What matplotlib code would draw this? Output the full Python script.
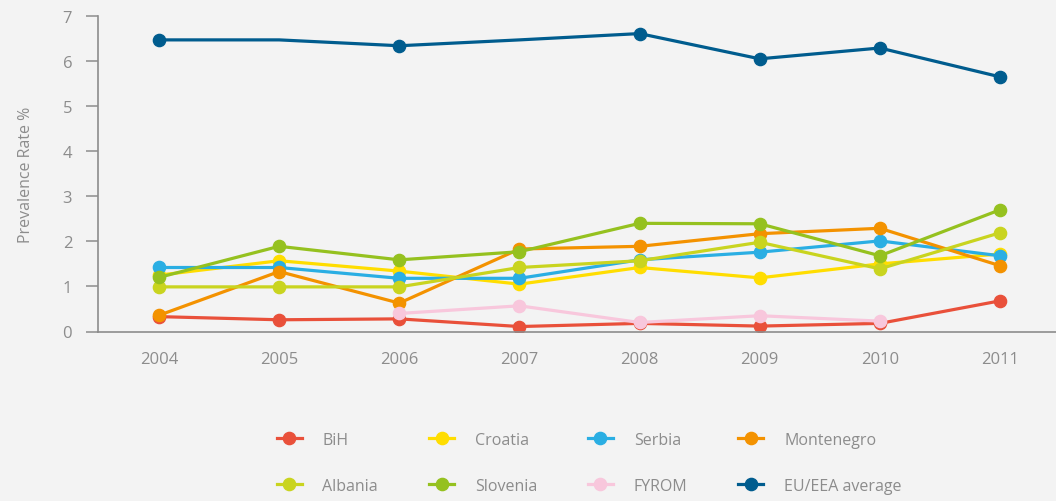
import numpy as np
import matplotlib
matplotlib.use("Agg")
import matplotlib.pyplot as plt
from matplotlib.lines import Line2D

years = [2004, 2005, 2006, 2007, 2008, 2009, 2010, 2011]
nan = np.nan

bih        = [0.33, 0.26, 0.28, 0.11, 0.18, 0.12, 0.18, 0.68]
croatia    = [1.25, 1.57, 1.34, 1.05, 1.42, 1.19, 1.50, 1.72]
serbia     = [1.42, 1.42, 1.18, 1.18, 1.59, 1.76, 2.01, 1.68]
montenegro = [0.36, 1.33, 0.63, 1.83, 1.89, 2.17, 2.29, 1.46]
albania    = [0.99, 0.99, 0.99, 1.42, 1.57, 1.98, 1.39, 2.19]
slovenia   = [1.20, 1.89, 1.59, 1.77, 2.40, 2.39, 1.68, 2.70]
fyrom      = [nan, nan, 0.40, 0.57, 0.20, 0.35, 0.23, nan]
eu_eea     = [6.47, 6.47, 6.34, 6.47, 6.61, 6.05, 6.29, 5.65]
eu_marker_idx = [0, 2, 4, 5, 6, 7]

series = [
    ("BiH", bih, "#E9503A", None),
    ("Croatia", croatia, "#FFDD00", None),
    ("Serbia", serbia, "#2AAEE3", None),
    ("Montenegro", montenegro, "#F39200", None),
    ("Albania", albania, "#C9D41F", None),
    ("Slovenia", slovenia, "#95C11F", None),
    ("FYROM", fyrom, "#F8C7DC", None),
    ("EU/EEA average", eu_eea, "#005C8E", eu_marker_idx),
]

bg = "#F3F3F3"
gray = "#8C8C8C"
plt.rcParams['font.family'] = ['Open Sans', 'DejaVu Sans']

fig = plt.figure(figsize=(10.56, 5.02), dpi=100, facecolor=bg)
ax = fig.add_axes([98/1056, 1 - 332.5/502, 1 - 98/1056, (332.5 - 17)/502], facecolor=bg)

for name, vals, col, mk in series:
    ax.plot(years, vals, color=col, lw=2.3, marker='o', markersize=8.8,
            markevery=mk, label=name, solid_joinstyle='round')

ax.set_xlim(2004 - 61/120.14, 2011 + 56/120.14)
ax.set_ylim(0, 7)
ax.set_yticks(range(0, 8))
ax.set_xticks(years)

for s in ['top', 'right']:
    ax.spines[s].set_visible(False)
for s in ['left', 'bottom']:
    ax.spines[s].set_color(gray)
    ax.spines[s].set_linewidth(1.2)

ax.tick_params(axis='y', length=8.6, width=1.1, color=gray, labelcolor=gray,
               labelsize=12, pad=10)
ax.tick_params(axis='x', length=0, labelcolor=gray, labelsize=12, pad=14)
ax.set_ylabel("Prevalence Rate %", color=gray, fontsize=11.5)
ax.yaxis.set_label_coords(-64/958, 0.5)

# legend, row-major order (4 columns x 2 rows)
order = [0, 4, 1, 5, 2, 6, 3, 7]
handles = [Line2D([0], [0], color=series[i][2], lw=2.3, marker='o', markersize=8.8)
           for i in order]
labels = [series[i][0] for i in order]
leg = fig.legend(handles, labels, loc='center', ncol=4,
                 bbox_to_anchor=(0.558, 0.076), frameon=False,
                 fontsize=11.5, handlelength=1.55, handletextpad=1.3,
                 columnspacing=3.2, labelspacing=1.85)
for t in leg.get_texts():
    t.set_color(gray)

fig.savefig("out.png", dpi=100, facecolor=bg)
